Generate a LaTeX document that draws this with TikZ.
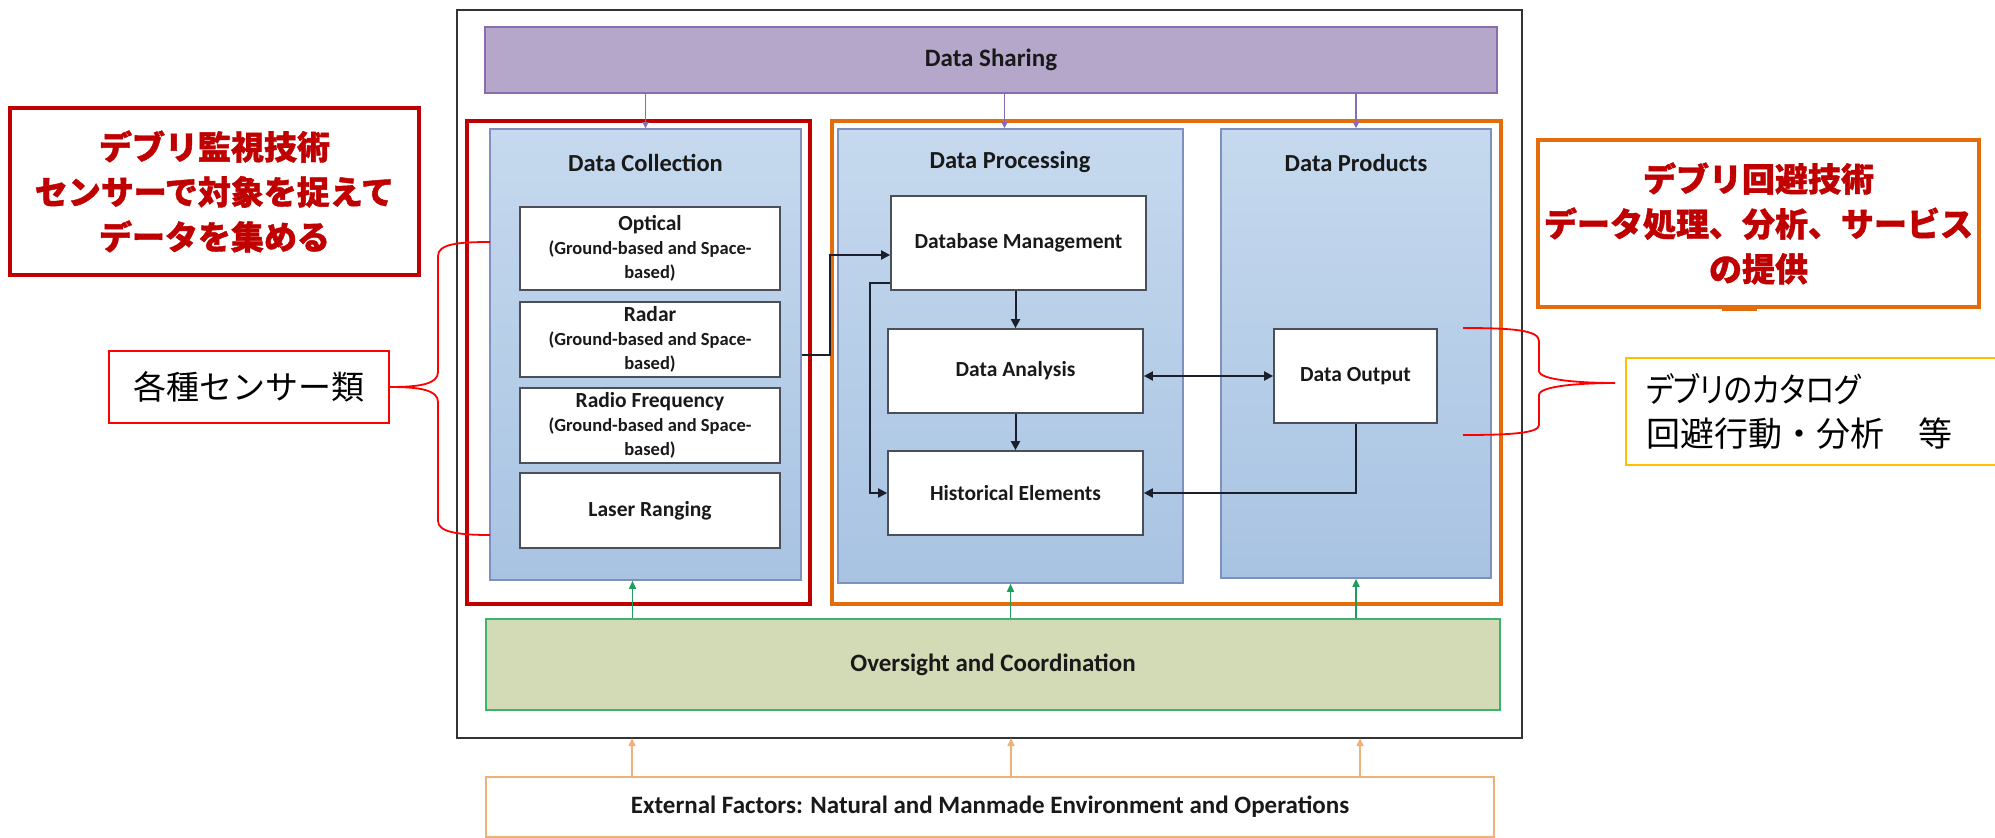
\documentclass[tikz,border=0pt]{standalone}
\usepackage{fontspec}
\setmainfont{Carlito}
\newfontfamily\jp[BoldFeatures={FakeBold=1.2}]{Noto Sans CJK JP}
\newfontfamily\jpp[RawFeature=+palt]{Noto Sans CJK JP}
\usetikzlibrary{arrows.meta,calc}
\definecolor{panelb}{HTML}{7F90BF}
\definecolor{panelt}{HTML}{C6D9EE}
\definecolor{panelbot}{HTML}{A8C3E2}
\definecolor{boxb}{HTML}{4A4F5A}
\definecolor{connc}{HTML}{1B1E2B}
\definecolor{purpf}{HTML}{B4A7CA}
\definecolor{purpb}{HTML}{8A6BB0}
\definecolor{ovf}{HTML}{D3DAB6}
\definecolor{ovb}{HTML}{3DB36E}
\definecolor{garr}{HTML}{1E9E5A}
\definecolor{extb}{HTML}{F0B07A}
\definecolor{darkred}{HTML}{C00000}
\definecolor{orng}{HTML}{E46C0A}
\definecolor{brred}{HTML}{FF0000}
\definecolor{yel}{HTML}{FFC000}
\definecolor{frame}{HTML}{333333}
\begin{document}
\begin{tikzpicture}[x=1pt,y=-1pt,
  panel/.style={draw=panelb, line width=1.6pt, top color=panelt, bottom color=panelbot, inner sep=0pt},
  ptitle/.style={font=\fontsize{24.5}{28}\selectfont\bfseries, text=black!90},
  wbox/.style={draw=boxb, line width=1.7pt, fill=white, inner sep=0pt, align=center, font=\fontsize{21.5}{25}\selectfont\bfseries, text=black!90},
  conn/.style={draw=connc, line width=2pt},
  tip/.style={-{Triangle[length=9pt,width=9pt]}},
  parrow/.style={draw=purpb, line width=1.3pt, -{Triangle[length=6pt,width=6pt]}},
  garrow/.style={draw=garr, line width=1.6pt, -{Triangle[length=8pt,width=7pt]}},
  oarrow/.style={draw=extb, line width=1.6pt, -{Triangle[length=8pt,width=7pt]}},
  brace/.style={draw=brred, line width=1.8pt},
  bigbar/.style={line width=1.8pt, inner sep=0pt, font=\fontsize{25}{28}\selectfont\bfseries, text=black!90},
  callout/.style={line width=4pt, fill=white, inner sep=0pt, align=center, text=darkred, font=\fontsize{33}{45}\selectfont\jp\bfseries}
]
\useasboundingbox (0,0) rectangle (1995,838);
\fill[white] (0,0) rectangle (1995,838);

% outer frame
\draw[frame, line width=2.5pt] (457,10) rectangle (1522,738);

% data sharing
\node[bigbar, draw=purpb, fill=purpf, minimum width=1012pt, minimum height=66pt] (ds) at (991,60) {Data Sharing};

% group boxes
\draw[darkred, line width=3.5pt] (467,121) rectangle (810,604);
\draw[orng, line width=3.5pt] (832,121) rectangle (1501,604);

% panels
\node[panel, minimum width=311pt, minimum height=451pt] (dc) at (645.5,354.5) {};
\node[panel, minimum width=345pt, minimum height=454pt] (dp) at (1010.5,356) {};
\node[panel, minimum width=270pt, minimum height=449pt] (dpr) at (1356,353.5) {};
\node[ptitle] (dct) at (645.5,163) {Data Collection};
\node[ptitle] (dpt) at (1010,162) {Data Processing};
\node[ptitle] (dprt) at (1356,163) {Data Products};

% data collection boxes
\node[wbox, minimum width=260pt, minimum height=83pt] (opt) at (650,248.5)
  {Optical\\[-1pt]{\fontsize{18.5}{25}\selectfont (Ground-based and Space-}\\[-1pt]{\fontsize{18.5}{25}\selectfont based)}};
\node[wbox, minimum width=260pt, minimum height=75pt] (rad) at (650,339.5)
  {Radar\\[-1pt]{\fontsize{18.5}{25}\selectfont (Ground-based and Space-}\\[-1pt]{\fontsize{18.5}{25}\selectfont based)}};
\node[wbox, minimum width=260pt, minimum height=75pt] (rf) at (650,425.5)
  {Radio Frequency\\[-1pt]{\fontsize{18.5}{25}\selectfont (Ground-based and Space-}\\[-1pt]{\fontsize{18.5}{25}\selectfont based)}};
\node[wbox, minimum width=260pt, minimum height=75pt] (las) at (650,510.5) {Laser Ranging};

% data processing boxes
\node[wbox, minimum width=255pt, minimum height=94pt] (dbm) at (1018.5,243) {Database Management};
\node[wbox, minimum width=255pt, minimum height=84pt] (da) at (1015.5,371) {Data Analysis};
\node[wbox, minimum width=255pt, minimum height=84pt] (he) at (1015.5,493) {Historical Elements};
\node[wbox, minimum width=163pt, minimum height=94pt] (do) at (1355.5,376) {Data Output};

% oversight and external
\node[bigbar, draw=ovb, fill=ovf, minimum width=1014pt, minimum height=91pt] (ov) at (993,664.5) {Oversight and Coordination};
\node[bigbar, draw=extb, fill=white, line width=2pt, minimum width=1008pt, minimum height=60pt] (ext) at (990,807) {External Factors: Natural and Manmade Environment and Operations};
\coordinate (fb1) at (632,738);
\coordinate (fb2) at (1011,738);
\coordinate (fb3) at (1360,738);

% purple arrows
\draw[parrow] (ds.south -| dc.north) -- (dc.north);
\draw[parrow] ([xshift=-6pt]ds.south -| dp.north) -- ([xshift=-6pt]dp.north);
\draw[parrow] (ds.south -| dpr.north) -- (dpr.north);
% green arrows
\draw[garrow] ([xshift=-13pt]ov.north -| dc.south) -- ([xshift=-13pt]dc.south);
\draw[garrow] (ov.north -| dp.south) -- (dp.south);
\draw[garrow] (ov.north -| dpr.south) -- (dpr.south);
% orange arrows
\draw[oarrow] (ext.north -| fb1) -- (fb1);
\draw[oarrow] (ext.north -| fb2) -- (fb2);
\draw[oarrow] (ext.north -| fb3) -- (fb3);

% processing connectors
\draw[conn, tip] (dc.east) -- ++(28,0) |- ([yshift=-12pt]dbm.west);
\draw[conn, tip] ([yshift=-40pt]dbm.west) -- ++(-20,0) |- (he.west);
\draw[conn, tip] (da.north |- dbm.south) -- (da.north);
\draw[conn, tip] (da.south) -- (he.north);
\draw[conn, {Triangle[length=9pt,width=9pt]}-{Triangle[length=9pt,width=9pt]}] (da.east |- do.west) -- (do.west);
\draw[conn, tip] (do.south) |- (he.east);

% left callouts
\node[callout, draw=darkred, minimum width=409pt, minimum height=167pt] (lc) at (214.5,191.5)
  {デブリ監視技術\\センサーで対象を捉えて\\データを集める};
\node[draw=brred, line width=1.8pt, fill=white, minimum width=280pt, minimum height=72pt, inner sep=0pt,
      font=\fontsize{33}{40}\selectfont\jp] (sens) at (249,387) {各種センサー類};
\draw[brace] (490,242) .. controls (458,242) and (438,244) .. (438,256) -- (438,372)
  .. controls (438,384) and (420,387) .. (sens.east)
  .. controls (420,387) and (438,390) .. (438,402) -- (438,521)
  .. controls (438,532) and (458,535) .. (490,535);

% right callouts
\node[callout, draw=orng, minimum width=441pt, minimum height=167pt] (rc) at (1758.5,223.5)
  {デブリ回避技術\\データ処理、分析、サービス\\の提供};
\fill[orng] (1722,305) rectangle (1757,311);
\node[draw=yel, line width=2pt, fill=white, anchor=west, minimum height=107pt, text width=345pt,
      inner xsep=20pt, inner ysep=0pt, align=left, font=\fontsize{34}{44}\selectfont\jp] (yb) at (1625,411.5)
  {\scalebox{0.87}[1]{\jpp デブリのカタログ}\\回避行動・分析　等};
\coordinate (rtip) at (1615,383);
\draw[brace] (1463,328) .. controls (1512,328) and (1539,330) .. (1539,341) -- (1539,371)
  .. controls (1539,380) and (1580,383) .. (rtip)
  .. controls (1580,383) and (1539,386) .. (1539,395) -- (1539,425)
  .. controls (1539,433) and (1512,435) .. (1463,435);
\end{tikzpicture}
\end{document}
